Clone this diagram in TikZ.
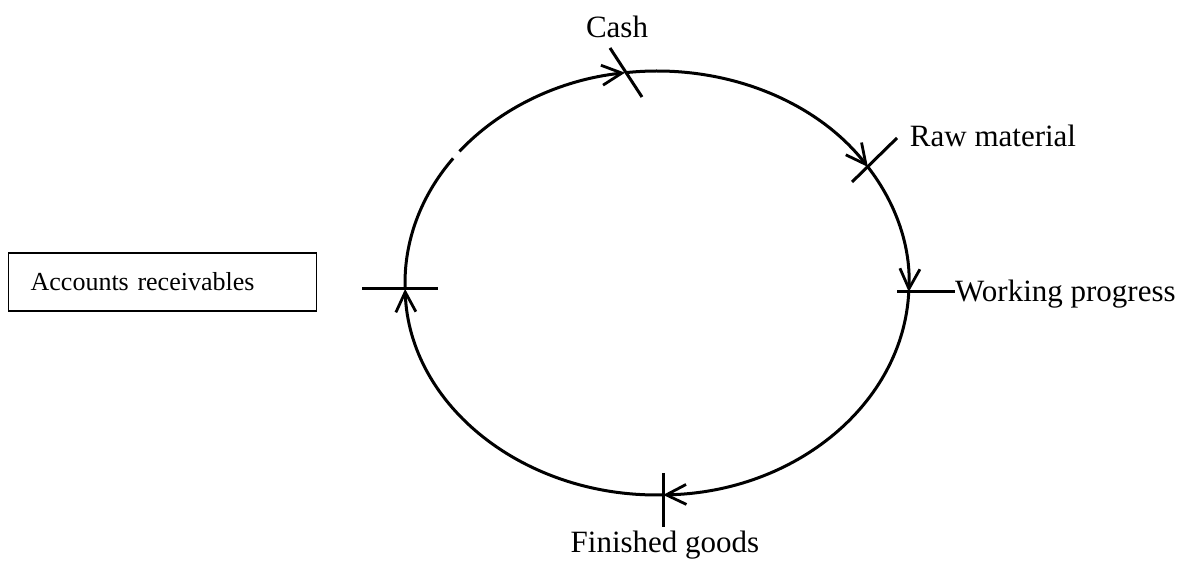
\documentclass[tikz,border=0pt]{standalone}
\usepackage{fontspec}
\setmainfont{Liberation Serif}
\usetikzlibrary{arrows.meta}
\begin{document}
\begin{tikzpicture}[x=1pt,y=1pt,
  cyc/.style={line width=3pt, -{Straight Barb[length=20pt,width=20pt,line width=2.8pt]}},
  cycplain/.style={line width=3pt},
  tickline/.style={line width=3pt},
  lbl/.style={font=\fontsize{31}{36}\selectfont, inner sep=0pt},
  boxlbl/.style={draw, line width=1.3pt, font=\fontsize{26}{30}\selectfont, inner xsep=22pt,
    text width=264pt, align=left, minimum height=58pt, anchor=west},
]
\useasboundingbox (0,0) rectangle (1187,568);
\coordinate (E) at (657,285);
% points on the cycle
\coordinate (ar)   at ([shift={(181.6:252 and 212)}]E);
\coordinate (gapa) at ([shift={(144:252 and 212)}]E);
\coordinate (gapb) at ([shift={(141.6:252 and 212)}]E);
\coordinate (cash) at ([shift={(97.3:252 and 212)}]E);
\coordinate (raw)  at ([shift={(33.2:252 and 212)}]E);
\coordinate (wp)   at ([shift={(-2.4:252 and 212)}]E);
\coordinate (fg)   at ([shift={(-88.6:252 and 212)}]E);
% cycle arcs (clockwise)
\draw[cycplain] (ar) arc[start angle=181.6, end angle=144, x radius=252, y radius=212];
\draw[cyc] (gapb) arc[start angle=141.6, end angle=97.3, x radius=252, y radius=212];
\draw[cyc] (cash) arc[start angle=97.3, end angle=33.2, x radius=252, y radius=212];
\draw[cyc] (raw) arc[start angle=33.2, end angle=-2.4, x radius=252, y radius=212];
\draw[cyc] (wp) arc[start angle=-2.4, end angle=-88.6, x radius=252, y radius=212];
\draw[cyc] (fg) arc[start angle=-88.6, end angle=-178.4, x radius=252, y radius=212];
% ticks
\coordinate (c1) at (610,520); \coordinate (c2) at (642,471);
\coordinate (r1) at (897,430); \coordinate (r2) at (852,386);
\coordinate (w1) at (897,276); \coordinate (w2) at (955,276);
\coordinate (f1) at (663,95);  \coordinate (f2) at (663,41);
\coordinate (a1) at (362,279); \coordinate (a2) at (438,279);
\draw[tickline] (c1) -- (c2);
\draw[tickline] (r1) -- (r2);
\draw[tickline] (w1) -- (w2);
\draw[tickline] (f1) -- (f2);
\draw[tickline] (a1) -- (a2);
% labels
\node[lbl] (tcash) at (617,541) {Cash};
\node[lbl] (traw) at (993,432) {Raw material};
\node[lbl, anchor=west] (twp) at (955,274) {Working progress};
\node[lbl] (tfg) at (665,23) {Finished goods};
\node[boxlbl] (tar) at (8,286) {Accounts receivables};
\end{tikzpicture}
\end{document}
